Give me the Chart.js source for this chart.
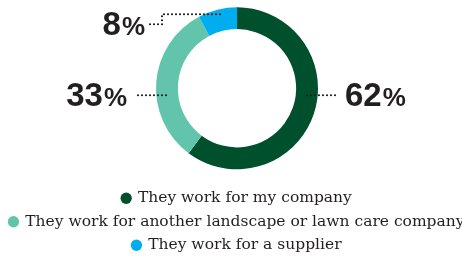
<!DOCTYPE html>
<html><head><meta charset="utf-8">
<script src="https://cdn.jsdelivr.net/npm/chart.js@4"></script>
<style>html,body{margin:0;padding:0;background:#fff}#wrap{width:462px;height:258px;position:relative}</style>
</head><body><div id="wrap"><canvas id="c"></canvas></div>
<script>
const categories = ["They work for my company", "They work for another landscape or lawn care company", "They work for a supplier"];
const values = [62, 33, 8];
const valueLabels = ["62", "33", "8"];
const colors = ["#00502e", "#62c4ab", "#00aeef"];

const shiftPlugin = {
  id: 'shiftArea',
  afterLayout(chart) {
    const a = chart.chartArea;
    a.left += 3; a.right += 3; a.top -= 3; a.bottom -= 3;
  }
};

const labelPlugin = {
  id: 'leaders',
  afterDatasetsDraw(chart) {
    const ctx = chart.ctx;
    const arcs = chart.getDatasetMeta(0).data;
    const a0 = arcs[0];
    const cx = a0.x, cy = a0.y, R = a0.outerRadius;
    const ink = '#231f20';
    function dots(pts) {
      ctx.save();
      ctx.strokeStyle = ink; ctx.lineWidth = 2.2; ctx.lineCap = 'round';
      ctx.setLineDash([0, 4]);
      ctx.beginPath();
      ctx.moveTo(pts[0][0], pts[0][1]);
      for (let i = 1; i < pts.length; i++) ctx.lineTo(pts[i][0], pts[i][1]);
      ctx.stroke();
      ctx.restore();
    }
    function pct(txt, x, y, align) {
      ctx.save();
      ctx.fillStyle = ink; ctx.textBaseline = 'alphabetic';
      const big = 'bold 33px "Liberation Sans", Arial, sans-serif';
      const small = 'bold 26px "Liberation Sans", Arial, sans-serif';
      ctx.font = big; const w1 = ctx.measureText(txt).width;
      ctx.font = small; const w2 = ctx.measureText('%').width;
      let sx = align === 'right' ? x - w1 - w2 - 1 : x;
      ctx.font = big; ctx.textAlign = 'left'; ctx.fillText(txt, sx, y);
      ctx.font = small; ctx.fillText('%', sx + w1 + 1, y);
      ctx.restore();
    }
    const ly = cy + 7;
    // 62%
    dots([[cx + R - 11, ly], [cx + R + 19, ly]]);
    pct(valueLabels[0], cx + R + 27, ly + 11, 'left');
    // 33%
    dots([[cx - R - 18, ly], [cx - R + 14, ly]]);
    pct(valueLabels[1], cx - R - 29, ly + 11, 'right');
    // 8%
    const ty = cy - R + 7;
    dots([[cx - R - 6, ty + 10], [cx - R + 6, ty + 10], [cx - R + 6, ty], [cx - 14, ty]]);
    pct(valueLabels[2], cx - R - 11, ty + 21, 'right');
  }
};

new Chart(document.getElementById('c'), {
  type: 'doughnut',
  data: { labels: categories, datasets: [{ data: values, backgroundColor: colors, borderWidth: 0 }] },
  options: {
    responsive: true, maintainAspectRatio: false, animation: false,
    cutout: '73%',
    radius: 81,
    layout: { padding: { top: 0, left: 6, right: -6, bottom: -5 } },
    plugins: {
      tooltip: { enabled: false },
      legend: {
        position: 'bottom',
        labels: {
          usePointStyle: true, pointStyle: 'circle', boxWidth: 8, boxHeight: 8,
          color: '#231f20', padding: 8,
          font: { family: '"DejaVu Serif", serif', size: 15.5 }
        }
      }
    }
  },
  plugins: [shiftPlugin, labelPlugin]
});
</script></body></html>
